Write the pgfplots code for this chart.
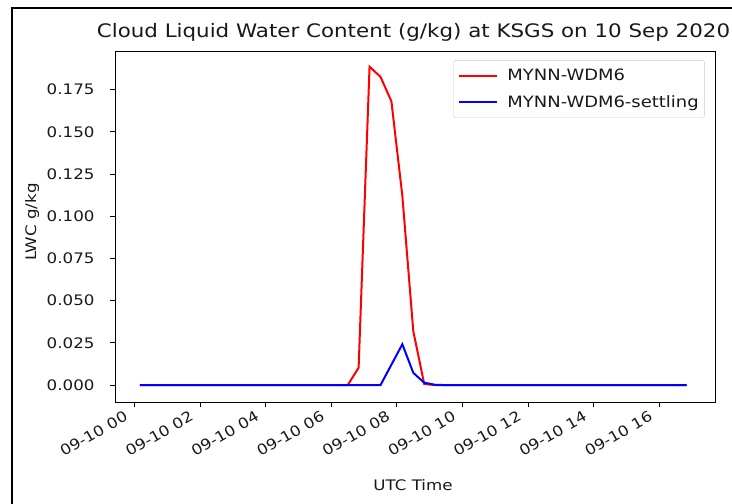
\documentclass[border=0pt]{standalone}
\usepackage{pgfplots}
\pgfplotsset{compat=1.18}
\usepackage{graphicx}
\usepackage{fontspec}
\setmainfont{DejaVu Sans}[FakeStretch=1.15]
\newfontfamily\plainfam{DejaVu Sans}
\newcommand{\tickfont}{\fontsize{14.5bp}{17bp}\selectfont}
\newcommand{\legfont}{\fontsize{15.6bp}{18bp}\selectfont}
\newcommand{\titlefont}{\fontsize{18.6bp}{21bp}\selectfont}
\newcommand{\xl}[1]{\scalebox{1.15}[1]{#1}}
\pgfplotstableread{
t red blue
0.1667 0 0
0.5000 0 0
0.8333 0 0
1.1667 0 0
1.5000 0 0
1.8333 0 0
2.1667 0 0
2.5000 0 0
2.8333 0 0
3.1667 0 0
3.5000 0 0
3.8333 0 0
4.1667 0 0
4.5000 0 0
4.8333 0 0
5.1667 0 0
5.5000 0 0
5.8333 0 0
6.1667 0 0
6.5000 0 0
6.8333 0.0103 0
7.1667 0.1885 0
7.5000 0.1825 0
7.8333 0.1680 0.0121
8.1667 0.1120 0.0242
8.5000 0.0320 0.0073
8.8333 0.0007 0.0014
9.1667 0 0.0002
9.5000 0 0
9.8333 0 0
10.1667 0 0
10.5000 0 0
10.8333 0 0
11.1667 0 0
11.5000 0 0
11.8333 0 0
12.1667 0 0
12.5000 0 0
12.8333 0 0
13.1667 0 0
13.5000 0 0
13.8333 0 0
14.1667 0 0
14.5000 0 0
14.8333 0 0
15.1667 0 0
15.5000 0 0
15.8333 0 0
16.1667 0 0
16.5000 0 0
16.8333 0 0
}\lwc
\begin{document}
\begin{tikzpicture}
\useasboundingbox (0,0) rectangle (732bp,-504bp);
\fill[white] (0,0) rectangle (732bp,-504bp);
\draw[line width=2bp] (11.5bp,-504bp) -- (11.5bp,-8bp) -- (732bp,-8bp);
\begin{axis}[
  at={(115bp,-402bp)}, anchor=south west,
  scale only axis, width=600bp, height=351bp,
  xmin=-0.595, xmax=17.7, ymin=-0.0100, ymax=0.1978,
  axis line style={black, line width=0.8bp},
  tick align=outside, tick pos=left,
  major tick length=5bp,
  tick style={black, line width=0.8bp},
  xtick={0,2,4,6,8,10,12,14,16},
  xticklabels={\xl{09-10 00},\xl{09-10 02},\xl{09-10 04},\xl{09-10 06},\xl{09-10 08},\xl{09-10 10},\xl{09-10 12},\xl{09-10 14},\xl{09-10 16}},
  ytick={0,0.025,0.05,0.075,0.1,0.125,0.15,0.175},
  yticklabel style={/pgf/number format/.cd, fixed, fixed zerofill, precision=3, /pgf/number format/assume math mode=true, /tikz/.cd, xshift=-12bp},
  ticklabel style={font=\tickfont, text=black!90},
  xticklabel style={font=\plainfam\tickfont, rotate=30, anchor=north east, inner sep=0bp, xshift=-11bp, yshift=3bp},
  scaled y ticks=false,
  legend cell align=left,
  legend image code/.code={\draw[#1] (0bp,0bp) -- (38bp,0bp);},
  legend style={at={(0.983,0.974)}, anchor=north east, draw=black!20, rounded corners=2.5bp,
    fill=white, fill opacity=0.8, text opacity=1, font=\legfont, text=black!90,
    inner xsep=4bp, inner ysep=7bp, row sep=9bp,
    /tikz/every odd column/.append style={column sep=8bp}},
]
\addplot[red, line width=2bp] table[x=t, y=red] {\lwc};
\addlegendentry{MYNN-WDM6}
\addplot[blue, line width=2bp] table[x=t, y=blue] {\lwc};
\addlegendentry{MYNN-WDM6-settling}
\end{axis}
\node[font=\titlefont, text=black!90] at (413.5bp,-32bp) {Cloud Liquid Water Content (g/kg) at KSGS on 10 Sep 2020};
\node[font=\plainfam\tickfont, text=black!90, rotate=90] at (32bp,-222bp) {\scalebox{1.15}[1]{LWC g/kg}};
\node[font=\tickfont, text=black!90] at (413bp,-485bp) {UTC Time};
\end{tikzpicture}
\end{document}
